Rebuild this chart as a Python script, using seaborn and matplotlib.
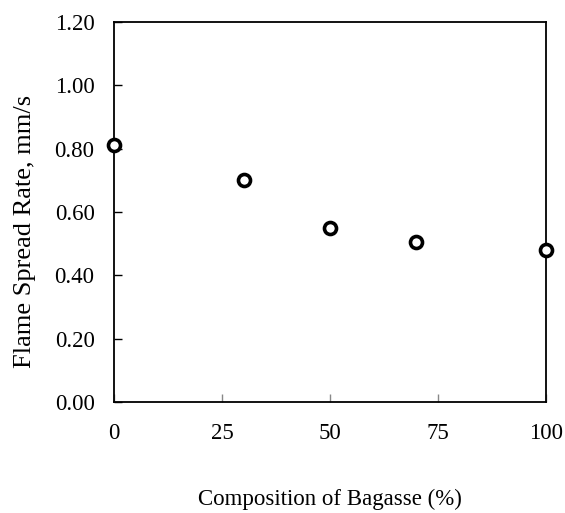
import matplotlib
matplotlib.use("Agg")
import matplotlib.pyplot as plt
import seaborn as sns
import pandas as pd

composition = [0, 30, 50, 70, 100]
spread_rate = [0.81, 0.70, 0.55, 0.505, 0.48]
x_ticks = [0, 25, 50, 75, 100]
y_ticks = [0.0, 0.2, 0.4, 0.6, 0.8, 1.0, 1.2]

sns.set_style("white")
plt.rcParams['font.family'] = ['Liberation Serif', 'DejaVu Serif']
plt.rcParams['text.color'] = 'black'
plt.rcParams['axes.labelcolor'] = 'black'
plt.rcParams['xtick.color'] = 'black'
plt.rcParams['ytick.color'] = 'black'
plt.rcParams['xtick.direction'] = 'in'
plt.rcParams['ytick.direction'] = 'in'

df = pd.DataFrame({"x": composition, "y": spread_rate})
fig = plt.figure(figsize=(5.65, 5.13), dpi=100)
ax = fig.add_axes([114/565, 1-402/513, (546-114)/565, (402-22)/513])
sns.scatterplot(data=df, x="x", y="y", ax=ax, marker="o", s=75,
                facecolor="white", edgecolor="black", linewidth=2.6, clip_on=False, zorder=5)
ax.set_xlim(0, 100)
ax.set_ylim(0, 1.2)
ax.set_xticks(x_ticks)
ax.set_xticklabels([str(v) for v in x_ticks])
ax.set_yticks(y_ticks)
ax.set_yticklabels([f"{v:.2f}" for v in y_ticks])
ax.tick_params(axis="x", bottom=True, direction="in", length=6, width=1,
               color="#888888", labelsize=16.5, labelcolor="black", pad=15)
ax.tick_params(axis="y", left=True, direction="in", length=6, width=1,
               color="black", labelsize=16.5, labelcolor="black", pad=14)
for sp in ax.spines.values():
    sp.set_color("black")
    sp.set_linewidth(1.3)
ax.set_xlabel("Composition of Bagasse (%)", fontsize=16.5)
ax.set_ylabel("Flame Spread Rate, mm/s", fontsize=19)
ax.xaxis.set_label_coords(0.5, -0.228)
ax.yaxis.set_label_coords(-0.18, 0.45)
fig.savefig("out.png", dpi=100)
